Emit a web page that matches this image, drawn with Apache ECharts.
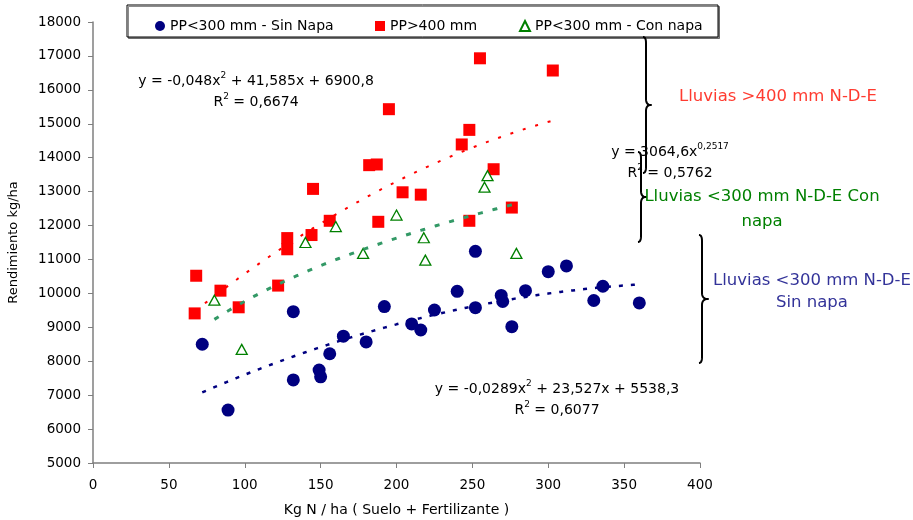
<!DOCTYPE html>
<html><head><meta charset="utf-8">
<script src="https://cdn.jsdelivr.net/npm/echarts@6/dist/echarts.min.js"></script>
<style>html,body{margin:0;padding:0;background:#fff}#c{width:913px;height:520px}</style>
</head><body><div id="c"></div>
<script>
// ---- data ----
const seriesNames = ['PP<300 mm - Sin Napa', 'PP>400 mm', 'PP<300 mm - Con napa'];

const sinNapaX = [72, 89, 132, 132, 149, 150, 156, 165, 180, 192, 210, 216, 225, 240, 252, 252, 269, 270, 276, 285, 300, 312, 330, 336, 360];
const sinNapaY = [8500, 6560, 9460, 7450, 7740, 7540, 8220, 8740, 8570, 9610, 9100, 8920, 9510, 10060, 11240, 9580, 9940, 9760, 9020, 10080, 10640, 10810, 9790, 10210, 9720];

const pp400X = [68, 67, 84, 96, 122, 128, 128, 144, 145, 156, 182, 187, 188, 195, 204, 216, 243, 248, 248, 255, 264, 276, 303];
const pp400Y = [10520, 9410, 10080, 9590, 10230, 11300, 11630, 11720, 13080, 12140, 13780, 13800, 12110, 15430, 12980, 12910, 14390, 14820, 12140, 16930, 13660, 12530, 16570];

const conNapaX = [80, 98, 140, 160, 178, 200, 218, 219, 258, 260, 279];
const conNapaY = [9800, 8350, 11500, 11970, 11180, 12310, 11640, 10980, 13130, 13470, 11180];

// trendline equations as printed on the chart
const redTrendCoef = [-0.048, 41.585, 6900.8];
const redTrendRange = [67, 303];
const blueTrendCoef = [-0.0289, 23.527, 5538.3];
const blueTrendRange = [72, 360];
const greenTrendCoef = [3064.6, 0.2517];
const greenTrendRange = [80, 279];

const eqRed = ['y = -0,048x', '2', ' + 41,585x + 6900,8', '0,6674'];
const eqBlue = ['y = -0,0289x', '2', ' + 23,527x + 5538,3', '0,6077'];
const eqGreen = ['y = 3064,6x', '0,2517', '', '0,5762'];

const noteRed = 'Lluvias >400 mm N-D-E';
const noteGreen = 'Lluvias <300 mm N-D-E Con\nnapa';
const noteBlue = 'Lluvias <300 mm N-D-E\nSin napa';

const xAxisTitle = 'Kg N / ha ( Suelo + Fertilizante )';
const yAxisTitle = 'Rendimiento kg/ha';

// ---- build ----
const F = 'DejaVu Sans';
function zip(xs, ys) { return xs.map((x, i) => [x, ys[i]]); }
function poly(c, r) { const out = []; for (let x = r[0]; x <= r[1]; x += 1) out.push([x, c[0]*x*x + c[1]*x + c[2]]); return out; }
function power(c, r) { const out = []; for (let x = r[0]; x <= r[1]; x += 1) out.push([x, c[0]*Math.pow(x, c[1])]); return out; }

function eqGraphic(eq, cx, cy, dy) {
  return [
    { type: 'text', z: 10, style: { x: cx, y: cy, align: 'center', verticalAlign: 'middle',
      text: '{n|' + eq[0] + '}{s|' + eq[1] + '}' + (eq[2] ? '{n|' + eq[2] + '}' : ''),
      rich: { n: { fontSize: 14, fontFamily: F, fill: '#000', lineHeight: 20 },
              s: { fontSize: 9, fontFamily: F, fill: '#000', verticalAlign: 'top' } } } },
    { type: 'text', z: 10, style: { x: cx, y: cy + dy, align: 'center', verticalAlign: 'middle',
      text: '{n|R}{s|2}{n| = ' + eq[3] + '}',
      rich: { n: { fontSize: 14, fontFamily: F, fill: '#000', lineHeight: 20 },
              s: { fontSize: 9, fontFamily: F, fill: '#000', verticalAlign: 'top' } } } }
  ];
}
// curly brace decoration built as a polyline (quadratic curves sampled)
function quad(p0, p1, p2, pts) {
  for (let i = 1; i <= 8; i++) {
    const t = i / 8, u = 1 - t;
    pts.push([u*u*p0[0] + 2*u*t*p1[0] + t*t*p2[0], u*u*p0[1] + 2*u*t*p1[1] + t*t*p2[1]]);
  }
}
function brace(x, y1, y2, w) {
  const ym = (y1 + y2) / 2;
  const pts = [[x - 3, y1]];
  quad([x - 3, y1], [x, y1], [x, y1 + 6], pts);
  pts.push([x, ym - 6]);
  quad([x, ym - 6], [x, ym], [x + w, ym], pts);
  quad([x + w, ym], [x, ym], [x, ym + 6], pts);
  pts.push([x, y2 - 6]);
  quad([x, y2 - 6], [x, y2], [x - 3, y2], pts);
  return { type: 'polyline', z: 9, shape: { points: pts },
    style: { fill: null, stroke: '#000', lineWidth: 2, lineJoin: 'round' } };
}

const chart = echarts.init(document.getElementById('c'), null, { renderer: 'canvas' });
const legendBase = { top: 14, itemWidth: 10, itemHeight: 10, itemGap: 10, selectedMode: false,
  textStyle: { fontFamily: F, fontSize: 14, color: '#000' } };

chart.setOption({
  animation: false,
  backgroundColor: '#fff',
  grid: { left: 93, right: 213, top: 22, bottom: 57, containLabel: false, outerBoundsMode: 'none' },
  legend: [
    Object.assign({ left: 150, data: [seriesNames[0]] }, legendBase),
    Object.assign({ left: 370, data: [seriesNames[1]] }, legendBase),
    Object.assign({ left: 514, data: [seriesNames[2]] }, legendBase)
  ],
  xAxis: {
    type: 'value', min: 0, max: 400, interval: 50,
    name: xAxisTitle, nameLocation: 'middle', nameGap: 40,
    nameTextStyle: { fontFamily: F, fontSize: 14, color: '#000' },
    axisLine: { show: true, lineStyle: { color: '#7f7f7f', width: 1.5 } },
    axisTick: { show: true, length: 5, lineStyle: { color: '#7f7f7f' } },
    axisLabel: { fontFamily: F, fontSize: 13.5, color: '#000', margin: 15, formatter: v => String(v) },
    splitLine: { show: false }
  },
  yAxis: {
    type: 'value', min: 5000, max: 18000, interval: 1000,
    name: yAxisTitle, nameLocation: 'middle', nameGap: 73,
    nameTextStyle: { fontFamily: F, fontSize: 13, color: '#000' },
    axisLine: { show: true, lineStyle: { color: '#7f7f7f', width: 1.5 } },
    axisTick: { show: true, length: 5, lineStyle: { color: '#7f7f7f' } },
    axisLabel: { fontFamily: F, fontSize: 13.5, color: '#000', margin: 12, formatter: v => String(v) },
    splitLine: { show: false }
  },
  series: [
    { name: seriesNames[0], type: 'scatter', z: 2, symbol: 'circle', symbolSize: 13,
      itemStyle: { color: '#000080', opacity: 1 }, data: zip(sinNapaX, sinNapaY) },
    { name: seriesNames[1], type: 'scatter', z: 2, symbol: 'rect', symbolSize: 12,
      itemStyle: { color: '#ff0000', opacity: 1 }, data: zip(pp400X, pp400Y) },
    { name: seriesNames[2], type: 'scatter', z: 2, symbol: 'triangle', symbolSize: [11, 10],
      itemStyle: { color: '#ffffff', borderColor: '#008000', borderWidth: 1.3, opacity: 1 }, data: zip(conNapaX, conNapaY) },
    { name: 'trendRed', type: 'line', z: 3, silent: true, showSymbol: false, symbol: 'none',
      lineStyle: { color: '#ff0000', width: 2, type: [3, 10] }, data: poly(redTrendCoef, redTrendRange) },
    { name: 'trendBlue', type: 'line', z: 3, silent: true, showSymbol: false, symbol: 'none',
      lineStyle: { color: '#000080', width: 2.5, type: [4, 8] }, data: poly(blueTrendCoef, blueTrendRange) },
    { name: 'trendGreen', type: 'line', z: 3, silent: true, showSymbol: false, symbol: 'none',
      lineStyle: { color: '#339966', width: 3, type: [5, 10] }, data: power(greenTrendCoef, greenTrendRange) }
  ],
  graphic: [
    { type: 'rect', z: -1, shape: { x: 127, y: 5, width: 591, height: 32 },
      style: { fill: '#fff', stroke: '#000', lineWidth: 1, shadowColor: 'rgba(0,0,0,0.45)', shadowOffsetX: 1.5, shadowOffsetY: 1.5 } },
    ...eqGraphic(eqRed, 256, 81, 21),
    ...eqGraphic(eqBlue, 557, 389, 21),
    ...eqGraphic(eqGreen, 670, 152, 21),
    brace(646, 37, 173, 5),
    brace(641, 152, 242, 5),
    brace(702, 235, 363, 6),
    { type: 'text', z: 10, style: { x: 778, y: 97, align: 'center', verticalAlign: 'middle', text: noteRed,
      fontFamily: F, fontSize: 16.5, fill: '#ff3b30' } },
    { type: 'text', z: 10, style: { x: 762, y: 209, align: 'center', verticalAlign: 'middle', text: noteGreen,
      fontFamily: F, fontSize: 16.5, lineHeight: 25, fill: '#008000' } },
    { type: 'text', z: 10, style: { x: 812, y: 292, align: 'center', verticalAlign: 'middle', text: noteBlue,
      fontFamily: F, fontSize: 16.5, lineHeight: 22, fill: '#333399' } }
  ]
});
</script>
</body></html>
